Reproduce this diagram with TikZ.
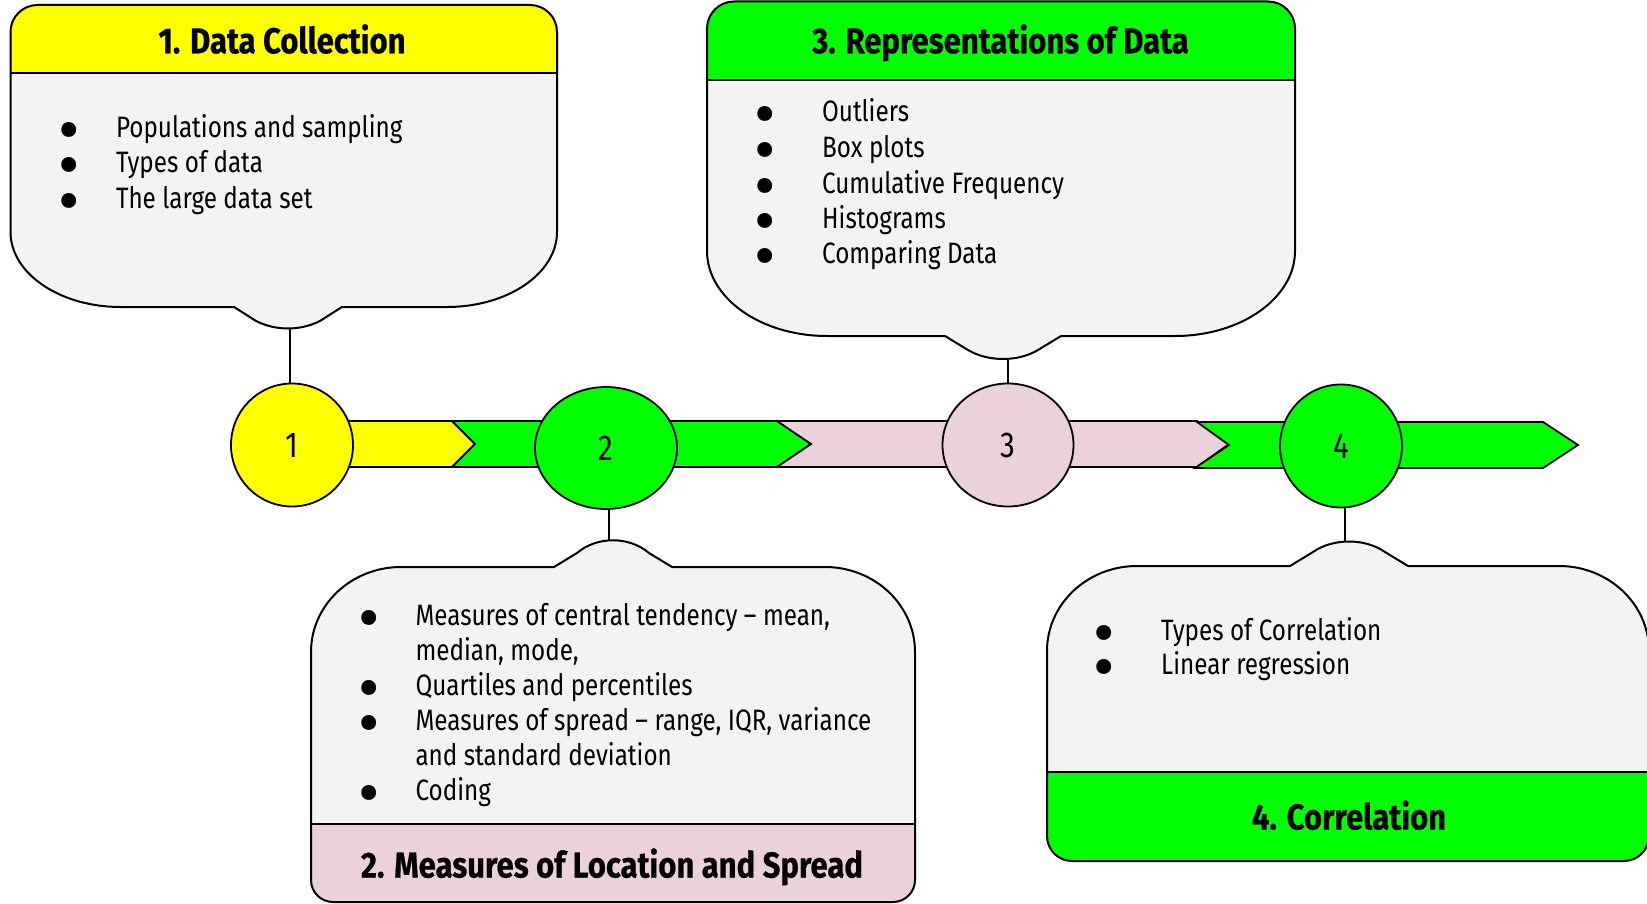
\documentclass[tikz,border=0pt]{standalone}
\usepackage{fontspec}
\setmainfont{Fira Sans}[FakeStretch=0.822]
\newfontfamily\headfont{Fira Sans}[FakeStretch=0.863, BoldFeatures={FakeBold=0.5}]
\newfontfamily\dotfont{Fira Sans}
\usetikzlibrary{shapes.geometric}

\definecolor{hdryellow}{HTML}{FFFF00}
\definecolor{hdrgreen}{HTML}{00FF00}
\definecolor{hdrpink}{HTML}{EAD1DC}
\definecolor{bodygray}{HTML}{F3F3F3}

% bullet centred on the node's west edge, item text starting #1 to its right
\newcommand\itm[2]{\makebox[0pt][c]{\smash{\raisebox{-15.2pt}{\dotfont\fontsize{66}{66}\selectfont •}}}\hspace*{#1}#2}

\tikzset{
  outline/.style={draw=black, line width=2pt, line join=round},
  item/.style={anchor=base west, inner sep=0pt, font=\fontsize{29.5}{34}\selectfont},
  title/.style={anchor=base, inner sep=0pt, font=\fontsize{36}{40}\selectfont\headfont\bfseries},
  stage/.style={ellipse, draw=black, line width=1.8pt, inner sep=0pt,
                font=\fontsize{36}{40}\selectfont},
  conn/.style={draw=black, line width=2.6pt},
  thinconn/.style={draw=black, line width=1.6pt},
  band/.style={draw=black, line width=1.8pt, line join=miter},
}

% outlines of the four topic boxes
\def\boxA{(10.5,-32) arc[start angle=180,end angle=90,radius=27] -- (530,-5)
  arc[start angle=90,end angle=0,radius=27] -- (557,-232)
  arc[start angle=0,end angle=-90,x radius=110,y radius=75] -- (342,-307) -- (320,-321)
  .. controls (300,-331) and (276,-331) .. (256,-321) -- (234,-307) -- (120.5,-307)
  arc[start angle=270,end angle=180,x radius=110,y radius=75] -- cycle}
\def\boxC{(707,-28.5) arc[start angle=180,end angle=90,radius=27] -- (1268,-1.5)
  arc[start angle=90,end angle=0,radius=27] -- (1295,-251)
  arc[start angle=0,end angle=-90,x radius=120,y radius=85] -- (1061,-336) -- (1038,-350)
  .. controls (1018,-362) and (988,-362) .. (968,-350) -- (945,-336) -- (827,-336)
  arc[start angle=270,end angle=180,x radius=120,y radius=85] -- cycle}
\def\boxB{(311,-652) arc[start angle=180,end angle=90,x radius=90,y radius=85] -- (554,-567)
  -- (577,-553) .. controls (597,-536) and (629,-536) .. (649,-553) -- (672,-567) -- (825,-567)
  arc[start angle=90,end angle=0,x radius=90,y radius=85] -- (915,-880)
  arc[start angle=0,end angle=-90,radius=22] -- (333,-902)
  arc[start angle=270,end angle=180,radius=22] -- cycle}
\def\boxD{(1047,-651) arc[start angle=180,end angle=90,x radius=90,y radius=85] -- (1290,-566)
  -- (1313,-552) .. controls (1333,-538) and (1365,-538) .. (1385,-552) -- (1408,-566) -- (1559,-566)
  arc[start angle=90,end angle=0,x radius=90,y radius=85] -- (1649,-836)
  arc[start angle=0,end angle=-90,radius=25] -- (1072,-861)
  arc[start angle=270,end angle=180,radius=25] -- cycle}

\begin{document}
\begin{tikzpicture}[x=1pt,y=1pt]
\useasboundingbox (0,0) rectangle (1647,-904);

% timeline band
\draw[band, fill=hdryellow] (300,-421) -- (452,-421) -- (475,-444) -- (452,-467) -- (300,-467) -- cycle;
\draw[band, fill=hdrgreen] (452,-421) -- (777,-421) -- (811,-444) -- (777,-467) -- (452,-467) -- (475,-444) -- cycle;
\draw[band, fill=hdrpink] (777,-421) -- (1197,-421) -- (1229,-444) -- (1197,-467) -- (777,-467) -- (811,-444) -- cycle;
\draw[band, fill=hdrgreen] (1197,-422) -- (1543,-422) -- (1578,-445) -- (1543,-468) -- (1195,-468) -- (1229,-445) -- cycle;

% stage markers
\node[stage, fill=hdryellow, minimum width=122pt, minimum height=123pt] (c1) at (292,-445) {1};
\node[stage, fill=hdrgreen, minimum width=142pt, minimum height=122pt] (c2) at (606,-448) {2};
\node[stage, fill=hdrpink, minimum width=131pt, minimum height=123pt] (c3) at (1008,-445) {3};
\node[stage, fill=hdrgreen, minimum width=122pt, minimum height=123pt] (c4) at (1341,-446) {4};

% box 1: Data Collection
\path[fill=bodygray] \boxA;
\fill[hdryellow] (10.5,-73.5) -- (10.5,-32) arc[start angle=180,end angle=90,radius=27] -- (530,-5)
  arc[start angle=90,end angle=0,radius=27] -- (557,-73.5) -- cycle;
\draw[outline] \boxA;
\draw[outline] (10.5,-73.5) -- (557,-73.5);

% box 3: Representations of Data
\path[fill=bodygray] \boxC;
\fill[hdrgreen] (707,-80) -- (707,-28.5) arc[start angle=180,end angle=90,radius=27] -- (1268,-1.5)
  arc[start angle=90,end angle=0,radius=27] -- (1295,-80) -- cycle;
\draw[outline] \boxC;
\draw[outline] (707,-80) -- (1295,-80);

% box 2: Measures of Location and Spread
\path[fill=bodygray] \boxB;
\fill[hdrpink] (311,-823.5) -- (915,-823.5) -- (915,-880) arc[start angle=0,end angle=-90,radius=22]
  -- (333,-902) arc[start angle=270,end angle=180,radius=22] -- cycle;
\draw[outline] \boxB;
\draw[outline] (311,-823.5) -- (915,-823.5);

% box 4: Correlation
\path[fill=bodygray] \boxD;
\fill[hdrgreen] (1047,-772) -- (1649,-772) -- (1649,-836) arc[start angle=0,end angle=-90,radius=25]
  -- (1072,-861) arc[start angle=270,end angle=180,radius=25] -- cycle;
\draw[outline] \boxD;
\draw[outline] (1047,-772) -- (1649,-772);

% connectors from the boxes to the stage markers
\coordinate (tab1) at (290,-328);
\coordinate (tab2) at (609,-540);
\coordinate (tab3) at (1008,-358);
\coordinate (tab4) at (1345,-541);
\draw[conn] (tab1) -- (tab1 |- c1.north);
\draw[conn] (c2.south -| tab2) -- (tab2);
\draw[thinconn] (tab3) -- (c3.north);
\draw[conn] (c4.south -| tab4) -- (tab4);

% titles
\node[title] (t1) at (282,-53.3) {1. Data Collection};
\node[title] (t3) at (1000.5,-53.3) {3. Representations of Data};
\node[title] (t2) at (612,-877.5) {2. Measures of Location and Spread};
\node[title] (t4) at (1349,-829.5) {4. Correlation};

% items of box 1
\node[item] (a1) at (68.8,-137.3) {\itm{47pt}{Populations and sampling}};
\node[item] (a2) at (68.8,-172.7) {\itm{47pt}{Types of data}};
\node[item] (a3) at (68.8,-208.3) {\itm{47pt}{The large data set}};

% items of box 3
\node[item] (r1) at (765,-121.7) {\itm{57pt}{Outliers}};
\node[item] (r2) at (765,-157.7) {\itm{57pt}{Box plots}};
\node[item] (r3) at (765,-193.3) {\itm{57pt}{Cumulative Frequency}};
\node[item] (r4) at (765,-228.3) {\itm{57pt}{Histograms}};
\node[item] (r5) at (765,-263.3) {\itm{57pt}{Comparing Data}};

% items of box 2
\node[item] (m1) at (368.8,-625) {\itm{46.5pt}{Measures of central tendency – mean,}};
\node[item] (m1b) at (415.3,-660) {median, mode,};
\node[item] (m2) at (368.8,-695) {\itm{46.5pt}{Quartiles and percentiles}};
\node[item] (m3) at (368.8,-730) {\itm{46.5pt}{Measures of spread – range, IQR, variance}};
\node[item] (m3b) at (415.3,-765) {and standard deviation};
\node[item] (m4) at (368.8,-800) {\itm{46.5pt}{Coding}};

% items of box 4
\node[item] (k1) at (1104,-640) {\itm{57pt}{Types of Correlation}};
\node[item] (k2) at (1104,-674) {\itm{57pt}{Linear regression}};
\end{tikzpicture}
\end{document}
